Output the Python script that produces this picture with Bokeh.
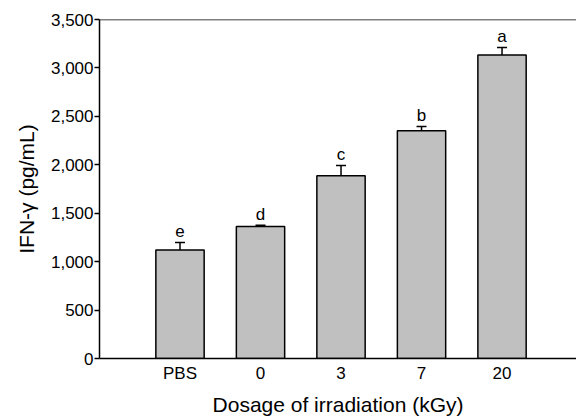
from bokeh.plotting import figure
from bokeh.models import ColumnDataSource, Whisker, Span, FixedTicker, NumeralTickFormatter, Range1d
from bokeh.embed import file_html
from bokeh.resources import INLINE
from bokeh.core.properties import value

categories = ["PBS", "0", "3", "7", "20"]
means = [1120, 1364, 1887, 2351, 3134]
errors = [78, 12, 106, 45, 76]
letters = ["e", "d", "c", "b", "a"]
y_ticks = [0, 500, 1000, 1500, 2000, 2500, 3000, 3500]

xs = list(range(1, len(categories) + 1))
upper = [m + e for m, e in zip(means, errors)]
src = ColumnDataSource(dict(x=xs, top=means, upper=upper, base=means, lab=letters))

FONT = "Liberation Sans"

p = figure(width=576, height=418, output_backend="svg", toolbar_location=None,
           x_range=Range1d(0, 5.925), y_range=Range1d(0, 3500),
           min_border_left=99, min_border_right=0, min_border_top=19, min_border_bottom=60)
p.outline_line_color = None
p.grid.visible = False
p.background_fill_color = "white"

p.vbar(x="x", top="top", bottom=0, width=0.6, source=src,
       fill_color="#c0c0c0", line_color="black", line_width=1.5)

w = Whisker(base="x", upper="upper", lower="base", source=src, dimension="height",
            line_color="black", line_width=1.5)
w.upper_head.size = 10
w.upper_head.line_width = 1.5
w.lower_head = None
p.add_layout(w)

p.text(x="x", y="upper", text="lab", source=src, text_align="center",
       text_baseline="alphabetic", y_offset=-11, text_font=value(FONT),
       text_font_size="17px", text_color="black")

p.add_layout(Span(location=3500, dimension="width", line_color="black", line_width=1.5))

p.xaxis.ticker = FixedTicker(ticks=xs)
p.xaxis.major_label_overrides = {x: c for x, c in zip(xs, categories)}
p.xaxis.minor_tick_line_color = None
p.xaxis.major_tick_in = 0
p.xaxis.major_tick_out = 0
p.xaxis.axis_line_width = 1.5
p.xaxis.axis_label = "Dosage of irradiation (kGy)"
p.xaxis.axis_label_standoff = 7
p.xaxis.major_label_standoff = 5

p.yaxis.ticker = FixedTicker(ticks=y_ticks)
p.yaxis.formatter = NumeralTickFormatter(format="0,0")
p.yaxis.minor_tick_line_color = None
p.yaxis.major_tick_in = 0
p.yaxis.major_tick_out = 5
p.yaxis.major_tick_line_width = 1.5
p.yaxis.axis_line_width = 1.5
p.yaxis.axis_label = "IFN-γ (pg/mL)"
p.yaxis.axis_label_standoff = 10
p.yaxis.major_label_standoff = 1

for ax in (p.xaxis, p.yaxis):
    ax.major_label_text_font = FONT
    ax.major_label_text_font_size = "17px"
    ax.major_label_text_color = "black"
    ax.axis_label_text_font = FONT
    ax.axis_label_text_font_size = "21px"
    ax.axis_label_text_font_style = "normal"
    ax.axis_label_text_color = "black"
    ax.axis_line_color = "black"
p.xaxis.major_tick_line_color = None
p.yaxis.major_tick_line_color = "black"

open("out.html", "w").write(file_html(p, INLINE))
